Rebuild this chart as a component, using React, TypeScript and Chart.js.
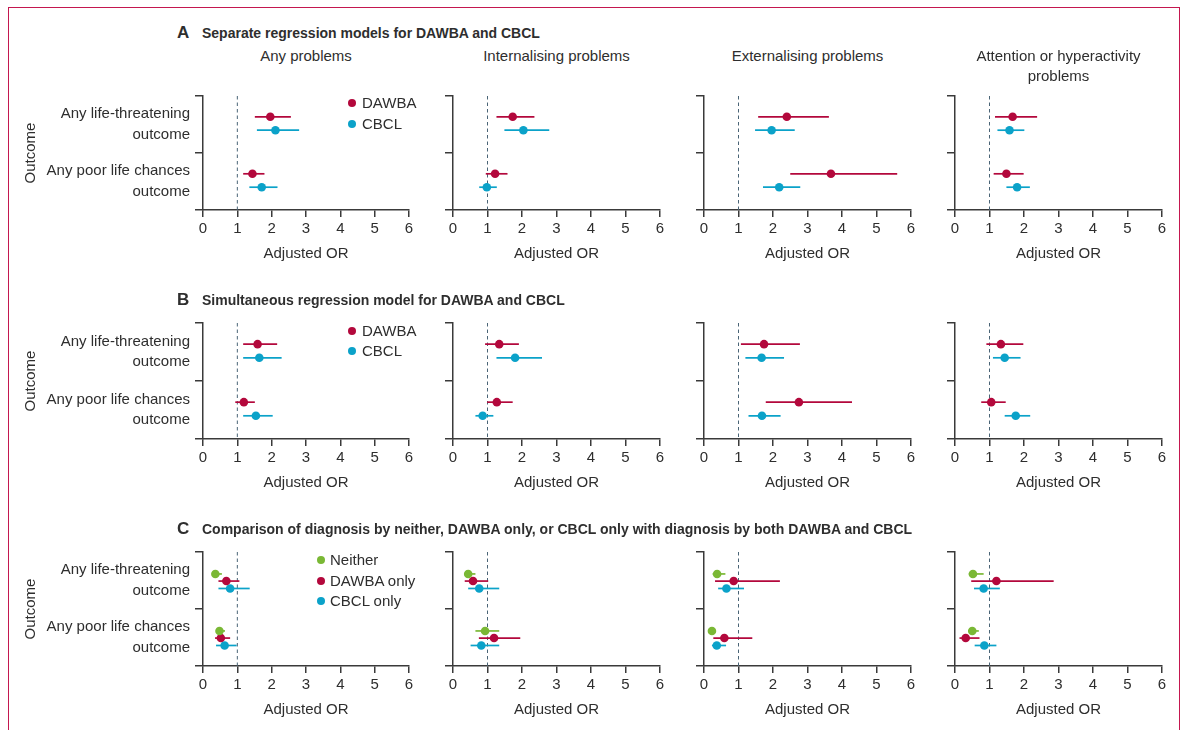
import React, { useEffect, useRef } from 'react';
import { Chart, registerables } from 'chart.js';

Chart.register(...registerables);

// ---------------- data ----------------
const columnTitles: (string | string[])[] = [
  'Any problems',
  'Internalising problems',
  'Externalising problems',
  ['Attention or hyperactivity', 'problems'],
];
const outcomeLabels: string[][] = [
  ['Any life-threatening', 'outcome'],
  ['Any poor life chances', 'outcome'],
];
const xTickMin = 0;
const xTickMax = 6;
const referenceOR = 1;

// values: [column][outcome] = [estimate, lower CI, upper CI]
const separateDAWBA = [
  [[1.96, 1.51, 2.56], [1.44, 1.17, 1.79]],
  [[1.73, 1.26, 2.36], [1.22, 0.95, 1.58]],
  [[2.4, 1.57, 3.62], [3.68, 2.5, 5.6]],
  [[1.67, 1.16, 2.38], [1.49, 1.12, 1.99]],
];
const separateCBCL = [
  [[2.11, 1.57, 2.8], [1.71, 1.35, 2.17]],
  [[2.04, 1.49, 2.79], [0.98, 0.76, 1.27]],
  [[1.96, 1.48, 2.63], [2.18, 1.71, 2.79]],
  [[1.58, 1.23, 2.01], [1.8, 1.49, 2.17]],
];
const simultaneousDAWBA = [
  [[1.59, 1.17, 2.16], [1.19, 0.94, 1.51]],
  [[1.34, 0.93, 1.91], [1.27, 0.99, 1.73]],
  [[1.74, 1.07, 2.78], [2.75, 1.79, 4.29]],
  [[1.33, 0.91, 1.98], [1.05, 0.76, 1.47]],
];
const simultaneousCBCL = [
  [[1.64, 1.17, 2.29], [1.54, 1.17, 2.03]],
  [[1.8, 1.26, 2.58], [0.86, 0.65, 1.17]],
  [[1.67, 1.2, 2.32], [1.68, 1.29, 2.22]],
  [[1.44, 1.1, 1.9], [1.76, 1.44, 2.18]],
];
const comparisonNeither = [
  [[0.36, 0.28, 0.55], [0.48, 0.38, 0.64]],
  [[0.44, 0.33, 0.65], [0.93, 0.65, 1.34]],
  [[0.38, 0.25, 0.62], [0.23, 0.14, 0.34]],
  [[0.52, 0.4, 0.83], [0.5, 0.38, 0.69]],
];
const comparisonDAWBAonly = [
  [[0.68, 0.45, 1.06], [0.52, 0.35, 0.79]],
  [[0.58, 0.34, 1.02], [1.19, 0.75, 1.95]],
  [[0.86, 0.32, 2.2], [0.59, 0.27, 1.4]],
  [[1.2, 0.47, 2.86], [0.31, 0.13, 0.71]],
];
const comparisonCBCLonly = [
  [[0.79, 0.45, 1.36], [0.63, 0.38, 0.98]],
  [[0.76, 0.44, 1.34], [0.82, 0.51, 1.34]],
  [[0.65, 0.41, 1.16], [0.37, 0.23, 0.64]],
  [[0.83, 0.55, 1.3], [0.85, 0.57, 1.2]],
];

// ---------------- styles ----------------
const FONT = '"Liberation Sans", Arial, sans-serif';
const TEXT = '#2e2e2e';
const AXIS = '#3a3a3a';
const RED = '#b3083c';
const BLUE = '#0ba2c9';
const GREEN = '#7ab835';
const REF_LINE = '#4a6476';
const FRAME = '#c4174f';

type Series = { name: string; color: string; values: number[][][] };
type Row = { letter: string; heading: string; series: Series[] };

const rows: Row[] = [
  {
    letter: 'A',
    heading: 'Separate regression models for DAWBA and CBCL',
    series: [
      { name: 'DAWBA', color: RED, values: separateDAWBA },
      { name: 'CBCL', color: BLUE, values: separateCBCL },
    ],
  },
  {
    letter: 'B',
    heading: 'Simultaneous regression model for DAWBA and CBCL',
    series: [
      { name: 'DAWBA', color: RED, values: simultaneousDAWBA },
      { name: 'CBCL', color: BLUE, values: simultaneousCBCL },
    ],
  },
  {
    letter: 'C',
    heading:
      'Comparison of diagnosis by neither, DAWBA only, or CBCL only with diagnosis by both DAWBA and CBCL',
    series: [
      { name: 'Neither', color: GREEN, values: comparisonNeither },
      { name: 'DAWBA only', color: RED, values: comparisonDAWBAonly },
      { name: 'CBCL only', color: BLUE, values: comparisonCBCLonly },
    ],
  },
];

// layout (page pixels)
const COL_LEFT = [203, 453, 704, 955];
const COL_RIGHT = [409, 660, 911, 1162];
const ROW_TOP = [96, 323, 552];
const ROW_BOTTOM = [210, 439, 666];
const HEADING_Y = [33, 300, 529];
const PAD_TOP = 30;
const PAD_RIGHT = 12;
const PAD_BOTTOM = 6;
const X_AXIS_H = 53;
const Y_W_FIRST = 181;
const Y_W_OTHER = 12;
const SERIES_OFFSETS: Record<number, number[]> = {
  2: [0.365, 0.6],
  3: [0.385, 0.51, 0.64],
};
const LEGEND_POS = [
  { dotX: 352, textX: 362, ys: [102.5, 124] },
  { dotX: 352, textX: 362, ys: [330.5, 350.5] },
  { dotX: 321, textX: 330, ys: [560, 580.5, 600.5] },
];

Chart.defaults.font.family = FONT;

function Panel({ row, col }: { row: number; col: number }) {
  const ref = useRef<HTMLCanvasElement>(null);
  const yW = col === 0 ? Y_W_FIRST : Y_W_OTHER;
  const width = yW + (COL_RIGHT[col] - COL_LEFT[col]) + PAD_RIGHT;
  const height = PAD_TOP + (ROW_BOTTOM[row] - ROW_TOP[row]) + X_AXIS_H + PAD_BOTTOM;
  const left = COL_LEFT[col] - yW;
  const top = ROW_TOP[row] - PAD_TOP;

  useEffect(() => {
    const canvas = ref.current;
    if (!canvas) return;
    const series = rows[row].series;
    const offs = SERIES_OFFSETS[series.length];
    const datasets: any[] = [
      {
        type: 'line',
        data: [
          { x: referenceOR, y: 0 },
          { x: referenceOR, y: outcomeLabels.length },
        ],
        borderColor: REF_LINE,
        borderWidth: 1,
        borderDash: [3.5, 3],
        pointRadius: 0,
        yAxisID: 'yv',
        order: 3,
      },
    ];
    series.forEach((s, si) => {
      s.values[col].forEach((v, oi) => {
        datasets.push({
          type: 'line',
          data: [
            { x: v[1], y: oi + offs[si] },
            { x: v[2], y: oi + offs[si] },
          ],
          borderColor: s.color,
          borderWidth: 1.7,
          pointRadius: 0,
          yAxisID: 'yv',
          order: 2,
        });
      });
      datasets.push({
        type: 'scatter',
        data: s.values[col].map((v, oi) => ({ x: v[0], y: oi + offs[si] })),
        backgroundColor: s.color,
        borderWidth: 0,
        pointRadius: 4.3,
        yAxisID: 'yv',
        order: 1,
      });
    });

    const chart = new Chart(canvas, {
      type: 'scatter',
      data: { datasets },
      options: {
        animation: false,
        responsive: false,
        events: [],
        layout: { padding: { top: PAD_TOP, right: PAD_RIGHT, bottom: PAD_BOTTOM, left: 0 } },
        plugins: { legend: { display: false }, tooltip: { enabled: false } },
        scales: {
          x: {
            type: 'linear',
            min: xTickMin,
            max: xTickMax,
            ticks: { stepSize: 1, color: TEXT, font: { size: 15, family: FONT }, padding: 3 },
            grid: { drawOnChartArea: false, color: AXIS, lineWidth: 1.5, tickLength: 7 },
            border: { color: AXIS, width: 1.5 },
            title: {
              display: true,
              text: 'Adjusted OR',
              color: TEXT,
              font: { size: 15, family: FONT },
              padding: 0,
            },
            afterFit: (s: any) => {
              s.height = X_AXIS_H;
            },
          },
          y: {
            type: 'category',
            position: 'left',
            labels: outcomeLabels as any,
            offset: true,
            grid: { offset: true, drawOnChartArea: false, color: AXIS, lineWidth: 1.5, tickLength: 8 },
            border: { color: AXIS, width: 1.5 },
            ticks: {
              display: col === 0,
              color: TEXT,
              font: { size: 15, family: FONT, lineHeight: 1.36 },
              padding: 5,
            },
            title: {
              display: col === 0,
              text: 'Outcome',
              color: TEXT,
              font: { size: 15, family: FONT },
              padding: 0,
            },
            afterFit: (s: any) => {
              s.width = yW;
            },
          },
          yv: {
            type: 'linear',
            min: 0,
            max: outcomeLabels.length,
            reverse: true,
            display: false,
          },
        },
      } as any,
    });
    return () => chart.destroy();
  }, [row, col]);

  return (
    <canvas
      ref={ref}
      width={width}
      height={height}
      style={{ position: 'absolute', left, top, width, height, display: 'block' }}
    />
  );
}

export default function App() {
  const abs = (o: React.CSSProperties): React.CSSProperties => ({ position: 'absolute', ...o });
  return (
    <div
      style={{
        position: 'absolute',
        left: 0,
        top: 0,
        width: 1184,
        height: 730,
        overflow: 'hidden',
        background: '#ffffff',
        fontFamily: FONT,
        color: TEXT,
      }}
    >
      <div
        style={abs({
          left: 8,
          top: 7,
          width: 1170,
          height: 730,
          borderLeft: `1.5px solid ${FRAME}`,
          borderTop: `1.5px solid ${FRAME}`,
          borderRight: `1.5px solid ${FRAME}`,
        })}
      />
      {rows.map((r, ri) =>
        columnTitles.map((_, ci) => <Panel key={`${ri}-${ci}`} row={ri} col={ci} />)
      )}
      {rows.map((r, ri) => (
        <React.Fragment key={`h${ri}`}>
          <div
            style={abs({
              left: 177,
              top: HEADING_Y[ri] - 11,
              lineHeight: '22px',
              fontSize: 17,
              fontWeight: 700,
              whiteSpace: 'nowrap',
            })}
          >
            {r.letter}
          </div>
          <div
            style={abs({
              left: 202,
              top: HEADING_Y[ri] - 10,
              lineHeight: '20px',
              fontSize: 14,
              fontWeight: 700,
              whiteSpace: 'nowrap',
            })}
          >
            {r.heading}
          </div>
          {r.series.map((s, si) => (
            <React.Fragment key={`l${ri}-${si}`}>
              <div
                style={abs({
                  left: LEGEND_POS[ri].dotX - 4,
                  top: LEGEND_POS[ri].ys[si] - 4,
                  width: 8,
                  height: 8,
                  borderRadius: '50%',
                  background: s.color,
                })}
              />
              <div
                style={abs({
                  left: LEGEND_POS[ri].textX,
                  top: LEGEND_POS[ri].ys[si] - 10,
                  lineHeight: '20px',
                  fontSize: 15,
                  whiteSpace: 'nowrap',
                })}
              >
                {s.name}
              </div>
            </React.Fragment>
          ))}
        </React.Fragment>
      ))}
      {columnTitles.map((t, ci) => (
        <div
          key={`t${ci}`}
          style={abs({
            left: COL_LEFT[ci] - 20,
            width: COL_RIGHT[ci] - COL_LEFT[ci] + 40,
            top: 56 - 10.3,
            lineHeight: '20.6px',
            fontSize: 15,
            textAlign: 'center',
          })}
        >
          {Array.isArray(t) ? t.map((line, li) => <div key={li}>{line}</div>) : t}
        </div>
      ))}
    </div>
  );
}
